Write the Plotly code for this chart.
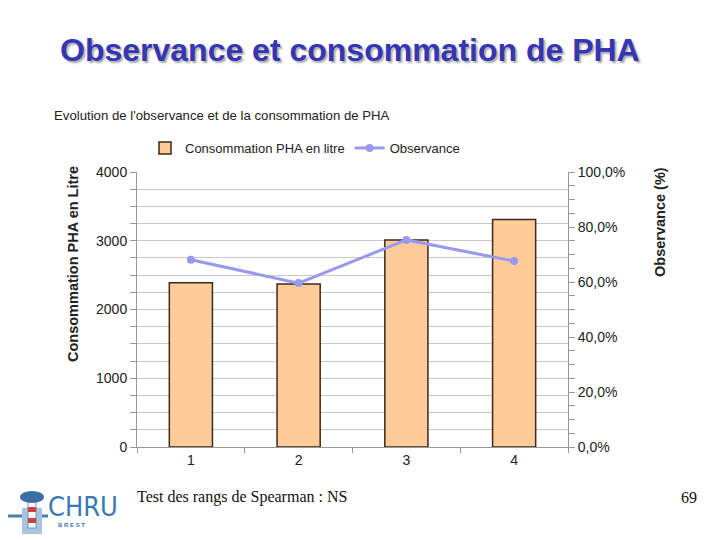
import plotly.graph_objects as go

categories = ["1", "2", "3", "4"]
consommation = [2390, 2370, 3010, 3310]
observance = [68.1, 59.6, 75.3, 67.6]
left_ticks = [0, 1000, 2000, 3000, 4000]
right_ticks = [0, 20, 40, 60, 80, 100]
right_labels = ["0,0%", "20,0%", "40,0%", "60,0%", "80,0%", "100,0%"]

OFF = 8  # page body margin
L, R, T, B = 137, 568, 172, 447


def px(x):
    return (x - L) / (R - L)


def py(y):
    return (B - y) / (B - T)


fig = go.Figure()
fig.add_trace(go.Bar(
    x=categories, y=consommation, name="Consommation PHA en litre",
    marker=dict(color="#ffcc99", line=dict(color="#3a2a1a", width=1.5)),
    width=0.4, yaxis="y"))
fig.add_trace(go.Scatter(
    x=categories, y=observance, name="Observance", mode="lines+markers",
    line=dict(color="#9999ee", width=3), marker=dict(color="#9999ee", size=8),
    yaxis="y2"))

grid = "#c8c8c8"
axis_title_font = dict(size=14.5, color="#222", family="Arial, Liberation Sans")
fig.update_layout(
    width=720, height=540,
    margin=dict(l=L - OFF, r=720 - R + OFF, t=T - OFF, b=540 - B + OFF, autoexpand=False),
    paper_bgcolor="white", plot_bgcolor="white",
    font=dict(family="Arial, Liberation Sans", color="#222"),
    showlegend=True,
    legend=dict(orientation="h", x=px(305), xanchor="center", y=py(148), yanchor="middle",
                font=dict(size=13, color="#222"), traceorder="normal"),
    xaxis=dict(showline=True, linecolor="#999", ticks="outside", tickson="boundaries",
               ticklen=5, tickcolor="#999", showgrid=False, automargin=False,
               tickfont=dict(size=14, color="#222")),
    yaxis=dict(range=[0, 4000], tickvals=left_ticks, showline=True, linecolor="#999",
               ticks="outside", ticklen=6, tickcolor="#999", automargin=False,
               showgrid=True, gridcolor=grid,
               minor=dict(dtick=250, showgrid=True, gridcolor=grid, ticks="outside", ticklen=6, tickcolor="#999"),
               tickfont=dict(size=14, color="#222")),
    yaxis2=dict(range=[0, 100], overlaying="y", side="right", tickvals=right_ticks,
                ticktext=right_labels, showline=True, linecolor="#999", automargin=False,
                ticks="outside", ticklen=6, tickcolor="#999", showgrid=False,
                minor=dict(dtick=5, ticks="outside", ticklen=6, tickcolor="#999"),
                tickfont=dict(size=14, color="#222")),
    annotations=[
        dict(text="<b>Observance et consommation de PHA</b>", xref="paper", yref="paper",
             x=px(350), y=py(50), xanchor="center", yanchor="middle", showarrow=False,
             font=dict(size=32, color="#3535b5", family="Arial, Liberation Sans",
                       shadow="2px 2px 2px #aaaaaa")),
        dict(text="Evolution de l'observance et de la consommation de PHA", xref="paper", yref="paper",
             x=px(52), y=py(115), xanchor="left", yanchor="middle", showarrow=False,
             font=dict(size=13.2, color="#222")),
        dict(text="<b>Consommation PHA en Litre</b>", xref="paper", yref="paper",
             x=px(73), y=py(264), xanchor="center", yanchor="middle", textangle=-90,
             showarrow=False, font=axis_title_font),
        dict(text="<b>Observance (%)</b>", xref="paper", yref="paper",
             x=px(660), y=py(222), xanchor="center", yanchor="middle", textangle=-90,
             showarrow=False, font=axis_title_font),
        dict(text="Test des rangs de Spearman : NS", xref="paper", yref="paper",
             x=px(135), y=py(497), xanchor="left", yanchor="middle", showarrow=False,
             font=dict(size=16, color="#111", family="Liberation Serif, Times New Roman")),
        dict(text="69", xref="paper", yref="paper",
             x=px(699), y=py(497), xanchor="right", yanchor="middle", showarrow=False,
             font=dict(size=16, color="#111", family="Liberation Serif, Times New Roman")),
        dict(text="CHRU", xref="paper", yref="paper",
             x=px(46), y=py(506), xanchor="left", yanchor="middle", showarrow=False,
             font=dict(size=27, color="#3a78b5", family="DejaVu Sans Condensed, DejaVu Sans")),
        dict(text="<b>B R E S T</b>", xref="paper", yref="paper",
             x=px(56), y=py(525), xanchor="left", yanchor="middle", showarrow=False,
             font=dict(size=6, color="#3a78b5")),
    ],
    shapes=[
        dict(type="line", xref="paper", yref="paper", x0=px(2), x1=px(48), y0=py(516), y1=py(516),
             line=dict(color="#4a7fb5", width=3)),
        dict(type="rect", xref="paper", yref="paper", x0=px(22), x1=px(42), y0=py(508), y1=py(534),
             fillcolor="#a9c4e0", line=dict(width=0)),
        dict(type="rect", xref="paper", yref="paper", x0=px(28), x1=px(36), y0=py(500), y1=py(528),
             fillcolor="white", line=dict(color="#7a8fa8", width=1)),
        dict(type="rect", xref="paper", yref="paper", x0=px(28), x1=px(36), y0=py(507), y1=py(512),
             fillcolor="#d04040", line=dict(width=0)),
        dict(type="rect", xref="paper", yref="paper", x0=px(28), x1=px(36), y0=py(518), y1=py(523),
             fillcolor="#d04040", line=dict(width=0)),
        dict(type="circle", xref="paper", yref="paper", x0=px(20), x1=px(44), y0=py(491), y1=py(503),
             fillcolor="#3c6ea5", line=dict(width=0)),
    ],
)
fig.write_html("out.html")
